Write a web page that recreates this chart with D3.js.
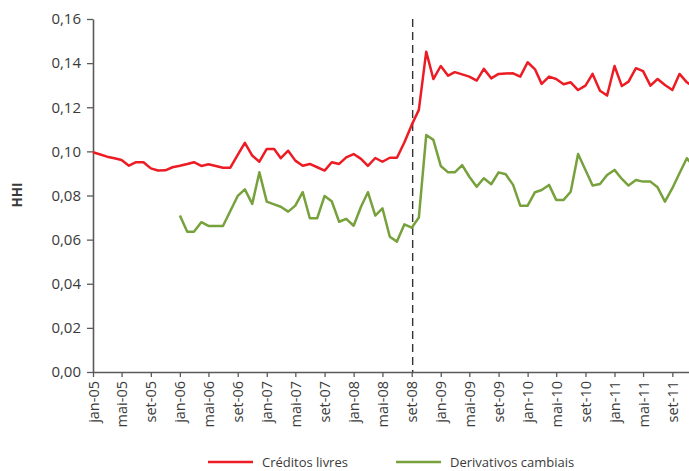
<!DOCTYPE html>
<html>
<head>
<meta charset="utf-8">
<script src="https://cdn.jsdelivr.net/npm/d3@7"></script>
<style>
  body { margin: 0; background: #fff; }
  text { font-family: "Open Sans", sans-serif; fill: #3a3a3a; }
</style>
</head>
<body>
<div id="chart"></div>
<script>
// Dados (HHI mensal, jan-05 a dez-11)
const startMonth = "2005-01";
const mesesPt = ["jan","fev","mar","abr","mai","jun","jul","ago","set","out","nov","dez"];

const creditosLivres = [
  0.0996, 0.0986, 0.0976, 0.0969, 0.0961, 0.0935, 0.0951, 0.0951, 0.0923, 0.0913, 0.0914, 0.0928,
  0.0935, 0.0943, 0.0951, 0.0934, 0.0942, 0.0934, 0.0926, 0.0926, 0.0984, 0.1039, 0.0981, 0.0953,
  0.1011, 0.1011, 0.0969, 0.1003, 0.0958, 0.0935, 0.0943, 0.0928, 0.0913, 0.0951, 0.0943, 0.0973,
  0.0988, 0.0966, 0.0934, 0.0970, 0.0953, 0.0971, 0.0971, 0.1040, 0.1120, 0.1188, 0.1452, 0.1328,
  0.1387, 0.1343, 0.1359, 0.1349, 0.1339, 0.1321, 0.1374, 0.1331, 0.1351, 0.1353, 0.1354, 0.1339,
  0.1404, 0.1372, 0.1306, 0.1339, 0.1328, 0.1304, 0.1313, 0.1278, 0.1298, 0.1351, 0.1275, 0.1253,
  0.1387, 0.1296, 0.1316, 0.1377, 0.1364, 0.1298, 0.1328, 0.1301, 0.1278, 0.1351, 0.1313, 0.1290
];

// série começa em jan-06
const derivativosCambiais = [
  null, null, null, null, null, null, null, null, null, null, null, null,
  0.0709, 0.0636, 0.0636, 0.0679, 0.0662, 0.0662, 0.0662, 0.0730, 0.0798, 0.0828, 0.0762, 0.0905,
  0.0772, 0.0760, 0.0749, 0.0727, 0.0754, 0.0815, 0.0697, 0.0697, 0.0798, 0.0774, 0.0681, 0.0694,
  0.0663, 0.0749, 0.0815, 0.0709, 0.0742, 0.0613, 0.0591, 0.0669, 0.0654, 0.0700, 0.1074, 0.1052,
  0.0934, 0.0905, 0.0905, 0.0938, 0.0885, 0.0840, 0.0878, 0.0851, 0.0905, 0.0896, 0.0848, 0.0754,
  0.0754, 0.0815, 0.0825, 0.0848, 0.0780, 0.0780, 0.0817, 0.0988, 0.0916, 0.0845, 0.0852, 0.0893,
  0.0916, 0.0875, 0.0845, 0.0870, 0.0863, 0.0863, 0.0837, 0.0772, 0.0833, 0.0901, 0.0969, 0.0930
];

const yTicks = [0, 0.02, 0.04, 0.06, 0.08, 0.10, 0.12, 0.14, 0.16];
const crisisDate = "2008-09-05";
const seriesNames = ["Créditos livres", "Derivativos cambiais"];
const seriesColors = ["#ed1c24", "#77a13c"];

// 1. Montar os dados
var parseMonth = d3.timeParse("%Y-%m");
var parseDay = d3.timeParse("%Y-%m-%d");
var start = parseMonth(startMonth);
var dates = creditosLivres.map((d, i) => d3.timeMonth.offset(start, i));
var series = [creditosLivres, derivativosCambiais].map(function(vals, k) {
    return {
        name: seriesNames[k],
        color: seriesColors[k],
        values: vals.map((v, i) => ({date: dates[i], value: v}))
    };
});

// 2. SVG
var width = 689, height = 471;
var margin = {left: 93, top: 19, bottom: 99, right: -5};

const svg = d3.select("#chart")
    .append("svg")
    .attr("width", width)
    .attr("height", height);

// 3. Escalas
var xScale = d3.scaleTime()
    .domain([dates[0], dates[dates.length - 1]])
    .range([margin.left, width - margin.right]);

var yScale = d3.scaleLinear()
    .domain([0, 0.16])
    .range([height - margin.bottom, margin.top]);

var ptBR = d3.formatLocale({decimal: ",", thousands: ".", grouping: [3], currency: ["R$", ""]});
var fmtY = ptBR.format(".2f");
var fmtX = d => mesesPt[d.getMonth()] + "-" + d3.timeFormat("%y")(d);

// 4. Eixos
var xAxis = d3.axisBottom(xScale)
    .ticks(d3.timeMonth.every(4))
    .tickFormat(fmtX)
    .tickSize(5)
    .tickSizeOuter(0);

var yAxis = d3.axisLeft(yScale)
    .tickValues(yTicks)
    .tickFormat(fmtY)
    .tickSize(6)
    .tickPadding(6)
    .tickSizeOuter(0);

var gx = svg.append("g")
    .attr("transform", `translate(0, ${height - margin.bottom})`)
    .call(xAxis);

gx.selectAll("text")
    .attr("transform", "rotate(-90)")
    .attr("text-anchor", "end")
    .attr("x", -9)
    .attr("y", 0)
    .attr("dy", "0.35em")
    .style("font-size", "14.5px");

var gy = svg.append("g")
    .attr("transform", `translate(${margin.left}, 0)`)
    .call(yAxis);

gy.selectAll("text").style("font-size", "15px");

svg.selectAll(".domain").attr("stroke", "#5a5a5a").attr("stroke-width", 1.6);
svg.selectAll(".tick line").attr("stroke", "#5a5a5a").attr("stroke-width", 1.3);

// linha tracejada (set-08)
var xc = xScale(parseDay(crisisDate));
svg.append("line")
    .attr("x1", xc).attr("x2", xc)
    .attr("y1", yScale(0.16)).attr("y2", yScale(0))
    .attr("stroke", "#333")
    .attr("stroke-width", 1.4)
    .attr("stroke-dasharray", "8,5");

// 5. Linhas
var line = d3.line()
    .defined(d => d.value !== null)
    .x(d => xScale(d.date))
    .y(d => yScale(d.value));

svg.selectAll(".serie")
    .data(series)
    .enter()
    .append("path")
    .attr("class", "serie")
    .attr("fill", "none")
    .attr("stroke", d => d.color)
    .attr("stroke-width", 2.5)
    .attr("stroke-linejoin", "round")
    .attr("d", d => line(d.values));

// 6. Título do eixo e legenda
svg.append("text")
    .attr("transform", "rotate(-90)")
    .attr("x", -195)
    .attr("y", 22)
    .attr("text-anchor", "middle")
    .style("font-size", "13.5px")
    .style("font-weight", "bold")
    .text("HHI");

var legendX = [208, 396];
var legend = svg.selectAll(".legenda")
    .data(series)
    .enter()
    .append("g")
    .attr("class", "legenda")
    .attr("transform", (d, i) => `translate(${legendX[i]}, 462)`);

legend.append("line")
    .attr("x1", 0).attr("x2", 45)
    .attr("stroke", d => d.color)
    .attr("stroke-width", 2.5);

legend.append("text")
    .attr("x", 54)
    .attr("dy", "0.35em")
    .style("font-size", "13px")
    .text(d => d.name);
</script>
</body>
</html>
